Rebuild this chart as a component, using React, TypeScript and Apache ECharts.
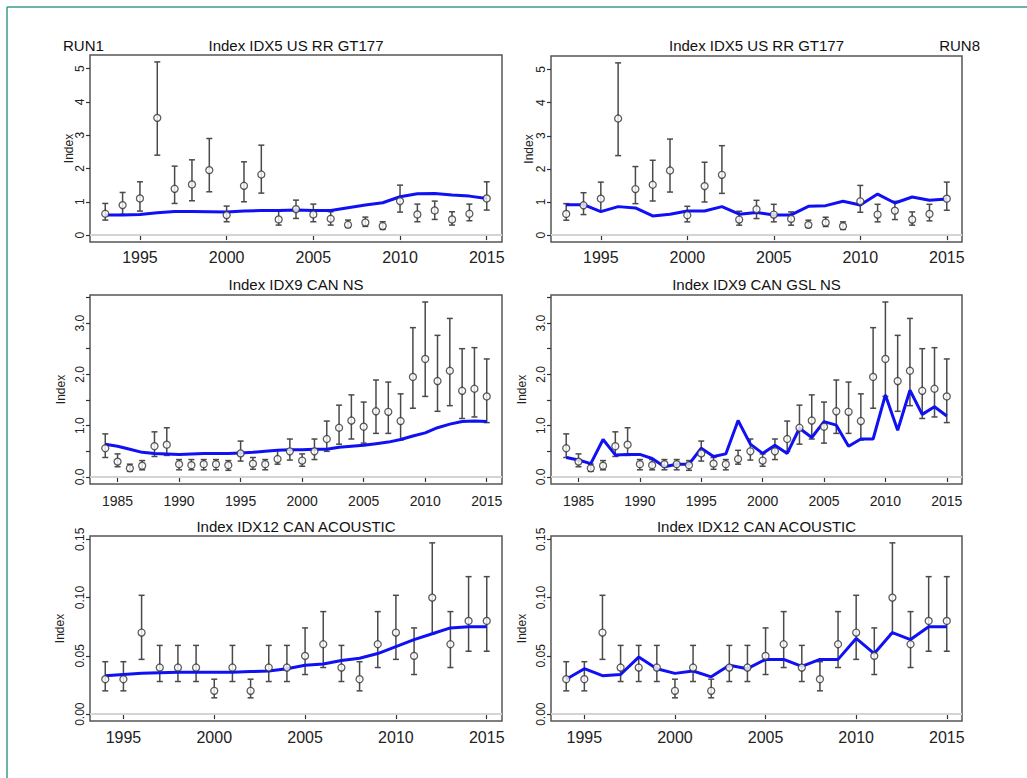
import React, { useEffect, useRef } from "react";
import * as echarts from "echarts";

// ---------- data ----------
const yearsIdx5 = [1993, 1994, 1995, 1996, 1997, 1998, 1999, 2000, 2001, 2002, 2003, 2004, 2005, 2006, 2007, 2008, 2009, 2010, 2011, 2012, 2013, 2014, 2015];
const idx5Obs = [0.64, 0.90, 1.10, 3.52, 1.39, 1.52, 1.95, 0.60, 1.48, 1.82, 0.47, 0.78, 0.62, 0.49, 0.31, 0.38, 0.27, 1.02, 0.62, 0.74, 0.47, 0.64, 1.10];
const idx5Lo = [0.45, 0.62, 0.72, 2.40, 0.95, 1.03, 1.30, 0.40, 1.00, 1.26, 0.30, 0.50, 0.40, 0.30, 0.23, 0.26, 0.17, 0.69, 0.40, 0.47, 0.30, 0.43, 0.75];
const idx5Hi = [0.95, 1.28, 1.60, 5.20, 2.07, 2.26, 2.90, 0.87, 2.20, 2.70, 0.72, 1.05, 0.93, 0.70, 0.45, 0.54, 0.40, 1.50, 0.93, 1.02, 0.70, 0.93, 1.60];
const idx5FitRun1 = [0.60, 0.60, 0.62, 0.67, 0.71, 0.71, 0.70, 0.69, 0.72, 0.74, 0.74, 0.75, 0.74, 0.74, 0.82, 0.90, 0.97, 1.15, 1.24, 1.25, 1.20, 1.17, 1.10];
const idx5FitRun8 = [0.92, 0.92, 0.71, 0.86, 0.82, 0.58, 0.63, 0.73, 0.73, 0.86, 0.63, 0.68, 0.61, 0.61, 0.87, 0.89, 1.02, 0.91, 1.24, 0.97, 1.15, 1.05, 1.09];

const yearsIdx9 = [1984, 1985, 1986, 1987, 1988, 1989, 1990, 1991, 1992, 1993, 1994, 1995, 1996, 1997, 1998, 1999, 2000, 2001, 2002, 2003, 2004, 2005, 2006, 2007, 2008, 2009, 2010, 2011, 2012, 2013, 2014, 2015];
const idx9Obs = [0.56, 0.30, 0.17, 0.22, 0.60, 0.63, 0.25, 0.23, 0.25, 0.25, 0.23, 0.46, 0.26, 0.25, 0.35, 0.50, 0.32, 0.50, 0.74, 0.96, 1.10, 0.98, 1.28, 1.27, 1.09, 1.95, 2.30, 1.87, 2.07, 1.68, 1.72, 1.57];
const idx9Lo = [0.38, 0.20, 0.11, 0.14, 0.40, 0.42, 0.14, 0.14, 0.14, 0.14, 0.13, 0.31, 0.15, 0.14, 0.25, 0.33, 0.21, 0.34, 0.50, 0.64, 0.74, 0.66, 0.85, 0.85, 0.72, 1.34, 1.57, 1.28, 1.39, 1.14, 1.17, 1.06];
const idx9Hi = [0.84, 0.45, 0.25, 0.32, 0.88, 0.96, 0.34, 0.34, 0.34, 0.34, 0.32, 0.70, 0.38, 0.34, 0.52, 0.74, 0.45, 0.74, 1.09, 1.40, 1.60, 1.46, 1.89, 1.85, 1.62, 2.91, 3.41, 2.76, 3.09, 2.50, 2.52, 2.30];
const idx9FitRun1 = [0.64, 0.60, 0.54, 0.48, 0.46, 0.45, 0.44, 0.45, 0.46, 0.46, 0.46, 0.47, 0.48, 0.50, 0.52, 0.53, 0.53, 0.54, 0.54, 0.58, 0.60, 0.62, 0.65, 0.68, 0.73, 0.80, 0.86, 0.96, 1.03, 1.08, 1.09, 1.08];
const idx9FitRun8 = [0.38, 0.33, 0.26, 0.73, 0.43, 0.44, 0.44, 0.36, 0.20, 0.25, 0.25, 0.56, 0.40, 0.45, 1.10, 0.64, 0.46, 0.62, 0.46, 0.95, 0.77, 1.08, 1.01, 0.60, 0.74, 0.74, 1.60, 0.91, 1.69, 1.22, 1.37, 1.19];

const yearsIdx12 = [1994, 1995, 1996, 1997, 1998, 1999, 2000, 2001, 2002, 2003, 2004, 2005, 2006, 2007, 2008, 2009, 2010, 2011, 2012, 2013, 2014, 2015];
const idx12Obs = [0.030, 0.030, 0.070, 0.040, 0.040, 0.040, 0.020, 0.040, 0.020, 0.040, 0.040, 0.050, 0.060, 0.040, 0.030, 0.060, 0.070, 0.050, 0.100, 0.060, 0.080, 0.080];
const idx12Lo = [0.020, 0.020, 0.047, 0.028, 0.028, 0.028, 0.014, 0.028, 0.014, 0.028, 0.028, 0.034, 0.040, 0.028, 0.020, 0.040, 0.047, 0.034, 0.069, 0.040, 0.054, 0.054];
const idx12Hi = [0.045, 0.045, 0.102, 0.059, 0.059, 0.059, 0.030, 0.059, 0.030, 0.059, 0.059, 0.074, 0.088, 0.059, 0.045, 0.088, 0.102, 0.074, 0.147, 0.088, 0.118, 0.118];
const idx12FitRun1 = [0.033, 0.034, 0.035, 0.0355, 0.036, 0.036, 0.036, 0.036, 0.0365, 0.037, 0.039, 0.042, 0.043, 0.046, 0.048, 0.052, 0.058, 0.064, 0.069, 0.074, 0.075, 0.075];
const idx12FitRun8 = [0.030, 0.039, 0.033, 0.034, 0.049, 0.039, 0.035, 0.037, 0.032, 0.042, 0.039, 0.047, 0.047, 0.041, 0.047, 0.047, 0.065, 0.052, 0.070, 0.064, 0.075, 0.075];

const xTicksA = [1995, 2000, 2005, 2010, 2015];
const xTicksB = [1985, 1990, 1995, 2000, 2005, 2010, 2015];
const yTicksIdx5 = [0, 1, 2, 3, 4, 5];
const yTicksIdx9 = [0, 0.5, 1, 1.5, 2, 2.5, 3, 3.5];
const yLabelsIdx9 = [0, 1, 2, 3];
const yTicksIdx12 = [0, 0.05, 0.1, 0.15];

const titleIdx5 = "Index IDX5 US RR GT177";
const titleIdx9Left = "Index IDX9 CAN NS";
const titleIdx9Right = "Index IDX9 CAN GSL NS";
const titleIdx12 = "Index IDX12 CAN ACOUSTIC";
const runLeft = "RUN1";
const runRight = "RUN8";

const FONT = "'Liberation Sans', Arial, sans-serif";

type Panel = {
  grid: { left: number; top: number; width: number; height: number };
  years: number[]; obs: number[]; lo: number[]; hi: number[]; fit: number[];
  xTicks: number[]; yTicks: number[]; yLabels: number[]; digits: number;
  title: string; titleY: number; xFont: number; xMargin: number; nameGap: number;
};

const panels: Panel[] = [
  { grid: { left: 90, top: 55, width: 412, height: 187 }, years: yearsIdx5, obs: idx5Obs, lo: idx5Lo, hi: idx5Hi, fit: idx5FitRun1,
    xTicks: xTicksA, yTicks: yTicksIdx5, yLabels: yTicksIdx5, digits: 0, title: titleIdx5, titleY: 45, xFont: 16, xMargin: 7, nameGap: 15 },
  { grid: { left: 551, top: 56, width: 411, height: 186 }, years: yearsIdx5, obs: idx5Obs, lo: idx5Lo, hi: idx5Hi, fit: idx5FitRun8,
    xTicks: xTicksA, yTicks: yTicksIdx5, yLabels: yTicksIdx5, digits: 0, title: titleIdx5, titleY: 45, xFont: 16, xMargin: 7, nameGap: 16 },
  { grid: { left: 90, top: 295, width: 412, height: 189 }, years: yearsIdx9, obs: idx9Obs, lo: idx9Lo, hi: idx9Hi, fit: idx9FitRun1,
    xTicks: xTicksB, yTicks: yTicksIdx9, yLabels: yLabelsIdx9, digits: 1, title: titleIdx9Left, titleY: 284, xFont: 14, xMargin: 10, nameGap: 23 },
  { grid: { left: 551, top: 295, width: 411, height: 189 }, years: yearsIdx9, obs: idx9Obs, lo: idx9Lo, hi: idx9Hi, fit: idx9FitRun8,
    xTicks: xTicksB, yTicks: yTicksIdx9, yLabels: yLabelsIdx9, digits: 1, title: titleIdx9Right, titleY: 284, xFont: 14, xMargin: 10, nameGap: 23 },
  { grid: { left: 90, top: 536, width: 412, height: 185 }, years: yearsIdx12, obs: idx12Obs, lo: idx12Lo, hi: idx12Hi, fit: idx12FitRun1,
    xTicks: xTicksA, yTicks: yTicksIdx12, yLabels: yTicksIdx12, digits: 2, title: titleIdx12, titleY: 526, xFont: 16, xMargin: 8, nameGap: 24 },
  { grid: { left: 551, top: 536, width: 411, height: 185 }, years: yearsIdx12, obs: idx12Obs, lo: idx12Lo, hi: idx12Hi, fit: idx12FitRun8,
    xTicks: xTicksA, yTicks: yTicksIdx12, yLabels: yTicksIdx12, digits: 2, title: titleIdx12, titleY: 526, xFont: 16, xMargin: 8, nameGap: 23 },
];

function buildOption() {
  const grids: any[] = [];
  const xAxes: any[] = [];
  const yAxes: any[] = [];
  const series: any[] = [];
  const graphics: any[] = [];

  panels.forEach((p, i) => {
    grids.push({ ...p.grid, show: true, borderColor: "#555", borderWidth: 1.5, backgroundColor: "transparent" });
    const x0 = p.years[0], x1 = p.years[p.years.length - 1];
    const xr = (x1 - x0) * 0.04;
    const yMax = Math.max(...p.hi);
    const yr = yMax * 0.04;
    xAxes.push({
      type: "value", gridIndex: i, min: x0 - xr, max: x1 + xr,
      axisLine: { show: false }, splitLine: { show: false },
      axisTick: { show: true, length: 5, customValues: p.xTicks, lineStyle: { color: "#333", width: 1.2 } },
      axisLabel: { customValues: p.xTicks, fontSize: p.xFont, color: "#222", margin: p.xMargin, fontFamily: FONT,
        formatter: (v: number) => String(Math.round(v)) },
    });
    yAxes.push({
      type: "value", gridIndex: i, min: -yr, max: yMax + yr,
      name: "Index", nameLocation: "middle", nameRotate: 90, nameGap: p.nameGap, nameMoveOverlap: false,
      nameTextStyle: { fontSize: 12, color: "#222", fontFamily: FONT },
      axisLine: { show: false }, splitLine: { show: false },
      axisTick: { show: true, length: 4, customValues: p.yTicks, lineStyle: { color: "#333", width: 1.2 } },
      axisLabel: {
        customValues: p.yLabels, rotate: 90, align: "center", verticalAlign: "bottom",
        fontSize: 12, color: "#222", margin: 4, fontFamily: FONT,
        formatter: (v: number) => Number(v).toFixed(p.digits),
      },
    });
    series.push({
      type: "custom", xAxisIndex: i, yAxisIndex: i, z: 3,
      encode: { x: 0, y: [1, 2] },
      data: p.years.map((y, j) => [y, p.lo[j], p.hi[j]]),
      renderItem: (_params: any, api: any) => {
        const x = api.value(0);
        const a = api.coord([x, api.value(1)]);
        const b = api.coord([x, api.value(2)]);
        const hw = 3;
        const st = { stroke: "#4a4a4a", lineWidth: 1.5 };
        return {
          type: "group",
          children: [
            { type: "line", shape: { x1: a[0], y1: a[1], x2: b[0], y2: b[1] }, style: st },
            { type: "line", shape: { x1: a[0] - hw, y1: a[1], x2: a[0] + hw, y2: a[1] }, style: st },
            { type: "line", shape: { x1: b[0] - hw, y1: b[1], x2: b[0] + hw, y2: b[1] }, style: st },
          ],
        };
      },
    });
    series.push({
      type: "line", xAxisIndex: i, yAxisIndex: i, z: 4,
      data: p.years.map((y, j) => [y, p.fit[j]]),
      symbol: "none", lineStyle: { color: "#1010f5", width: 3 },
    });
    series.push({
      type: "scatter", xAxisIndex: i, yAxisIndex: i, z: 5,
      data: p.years.map((y, j) => [y, p.obs[j]]),
      symbol: "circle", symbolSize: 7,
      itemStyle: { color: "#ffffff", borderColor: "#333", borderWidth: 1.3 },
      markLine: {
        silent: true, symbol: ["none", "none"], label: { show: false },
        lineStyle: { color: "#d4d4d4", width: 2, type: "solid" },
        data: [{ yAxis: 0 }],
      },
    });
    graphics.push({
      type: "text", x: p.grid.left + p.grid.width / 2, y: p.titleY,
      style: { text: p.title, fontSize: 15, fill: "#111", fontFamily: FONT, textAlign: "center", textVerticalAlign: "middle" },
    });
  });

  graphics.push({ type: "text", x: 63, y: 45, style: { text: runLeft, fontSize: 15, fill: "#111", fontFamily: FONT, textAlign: "left", textVerticalAlign: "middle" } });
  graphics.push({ type: "text", x: 980, y: 45, style: { text: runRight, fontSize: 15, fill: "#111", fontFamily: FONT, textAlign: "right", textVerticalAlign: "middle" } });
  // teal page frame
  graphics.push({ type: "line", shape: { x1: 7, y1: 7, x2: 1027, y2: 7 }, style: { stroke: "#3a9c8b", lineWidth: 1.5 } });
  graphics.push({ type: "line", shape: { x1: 7, y1: 7, x2: 7, y2: 778 }, style: { stroke: "#3a9c8b", lineWidth: 1.5 } });

  return {
    animation: false,
    backgroundColor: "#ffffff",
    textStyle: { fontFamily: FONT },
    grid: grids, xAxis: xAxes, yAxis: yAxes, series, graphic: graphics,
  };
}

export default function App() {
  const ref = useRef<HTMLDivElement>(null);
  useEffect(() => {
    if (!ref.current) return;
    const chart = echarts.init(ref.current, undefined, { renderer: "svg" });
    chart.setOption(buildOption() as any);
    return () => chart.dispose();
  }, []);
  return <div ref={ref} style={{ position: "absolute", left: 0, top: 0, width: 1027, height: 778 }} />;
}
